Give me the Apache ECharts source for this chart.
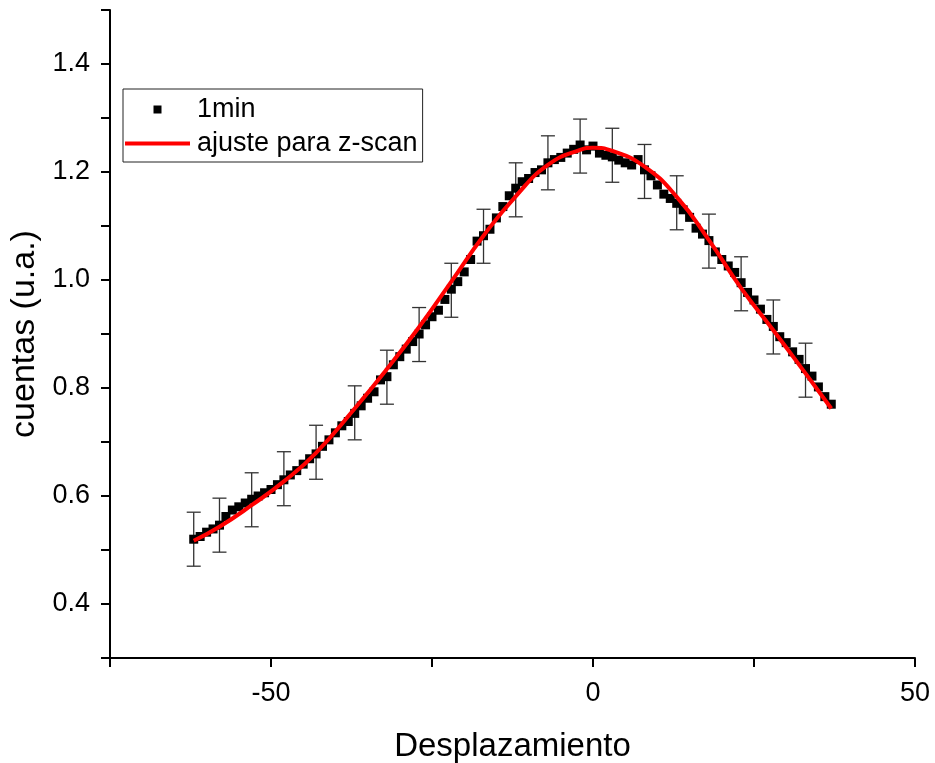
<!DOCTYPE html>
<html>
<head>
<meta charset="utf-8">
<script src="https://cdn.jsdelivr.net/npm/echarts@6/dist/echarts.min.js"></script>
<style>
  html, body { margin: 0; padding: 0; background: #fff; }
  #chart { width: 935px; height: 763px; }
</style>
</head>
<body>
<div id="chart"></div>
<script>
// measured points (1min), x in steps of 1
var pointX = [-62,-61,-60,-59,-58,-57,-56,-55,-54,-53,-52,-51,-50,-49,-48,-47,-46,-45,-44,-43,
  -42,-41,-40,-39,-38,-37,-36,-35,-34,-33,-32,-31,-30,-29,-28,-27,-26,-25,-24,-23,
  -22,-21,-20,-19,-18,-17,-16,-15,-14,-13,-12,-11,-10,-9,-8,-7,-6,-5,-4,-3,
  -2,-1,0,1,2,3,4,5,6,7,8,9,10,11,12,13,14,15,16,17,
  18,19,20,21,22,23,24,25,26,27,28,29,30,31,32,33,34,35,36,37];
var pointY = [0.520,0.525,0.533,0.539,0.546,0.562,0.574,0.580,0.587,0.594,0.600,0.606,0.612,0.621,0.630,0.639,0.647,0.659,0.669,0.678,
  0.692,0.704,0.717,0.730,0.738,0.753,0.767,0.781,0.793,0.815,0.821,0.843,0.858,0.872,0.886,0.900,0.917,0.932,0.944,0.964,
  0.983,0.997,1.015,1.038,1.072,1.082,1.094,1.115,1.136,1.156,1.170,1.182,1.188,1.199,1.204,1.217,1.223,1.227,1.235,1.242,
  1.250,1.241,1.248,1.235,1.231,1.228,1.222,1.217,1.213,1.223,1.204,1.193,1.176,1.159,1.151,1.142,1.130,1.116,1.096,1.085,
  1.073,1.052,1.038,1.026,1.014,0.995,0.977,0.963,0.946,0.927,0.914,0.895,0.884,0.867,0.853,0.836,0.822,0.802,0.784,0.770];

// error bars (every ~5th point)
var errX = [-62,-58,-53,-48,-43,-37,-32,-27,-22,-17,-12,-7,-2,3,8,13,18,23,28,33];
var errY = [0.520,0.546,0.593,0.632,0.681,0.754,0.820,0.899,0.981,1.081,1.167,1.217,1.248,1.231,1.201,1.143,1.072,0.993,0.913,0.833];
var errSize = 0.05;

// fitted curve
var fitX = [-62,-58,-53,-48,-43,-37,-32,-27,-22,-17,-12,-7,-2,0,3,8,13,18,23,28,33,37];
var fitY = [0.517,0.543,0.583,0.627,0.680,0.762,0.835,0.913,0.997,1.082,1.155,1.213,1.241,1.245,1.239,1.210,1.154,1.074,0.985,0.907,0.827,0.762];

var xTickLabels = [-50, 0, 50];
var yTickLabels = ['0.4', '0.6', '0.8', '1.0', '1.2', '1.4'];

var fontFam = '"Liberation Sans", Arial, sans-serif';

var chart = echarts.init(document.getElementById('chart'));

var scatterData = pointX.map(function (x, i) { return [x, pointY[i]]; });
var fitData = fitX.map(function (x, i) { return [x, fitY[i]]; });
var errData = errX.map(function (x, i) { return [x, errY[i] - errSize, errY[i] + errSize]; });

var option = {
  backgroundColor: '#fff',
  animation: false,
  grid: { left: 110, right: 20, top: 10, bottom: 105, containLabel: false, outerBoundsMode: 'none' },
  legend: {
    left: 123,
    top: 89,
    orient: 'vertical',
    data: [
      { name: '1min', icon: 'path://M0,0L10,0L10,10L0,10Z' },
      { name: 'ajuste para z-scan', icon: 'path://M0,0L65,0L65,4L0,4Z' }
    ],
    symbolKeepAspect: true,
    borderColor: '#222',
    borderWidth: 1,
    padding: [7, 5, 5, 2],
    itemWidth: 65,
    itemHeight: 8,
    itemGap: 7,
    textStyle: { fontSize: 27, color: '#000', fontFamily: fontFam, padding: [0, 0, 0, 2] }
  },
  xAxis: {
    type: 'value',
    min: -75,
    max: 50,
    interval: 25,
    name: 'Desplazamiento',
    nameLocation: 'middle',
    nameGap: 72,
    nameTextStyle: { fontSize: 33, color: '#000', fontFamily: fontFam },
    splitLine: { show: false },
    axisLine: { onZero: false, lineStyle: { color: '#000', width: 2 } },
    axisTick: { inside: false, length: 9, lineStyle: { color: '#000', width: 2 } },
    axisLabel: {
      margin: 22,
      fontSize: 27,
      color: '#000',
      fontFamily: fontFam,
      formatter: function (v) {
        return xTickLabels.indexOf(v) >= 0 ? String(v) : '';
      }
    }
  },
  yAxis: {
    type: 'value',
    min: 0.3,
    max: 1.5,
    interval: 0.1,
    name: 'cuentas (u.a.)',
    nameLocation: 'middle',
    nameGap: 66,
    nameTextStyle: { fontSize: 34, color: '#000', fontFamily: fontFam },
    splitLine: { show: false },
    axisLine: { onZero: false, lineStyle: { color: '#000', width: 2 } },
    axisTick: { inside: false, length: 9, lineStyle: { color: '#000', width: 2 } },
    axisLabel: {
      margin: 20,
      fontSize: 27,
      color: '#000',
      fontFamily: fontFam,
      formatter: function (v) {
        var s = v.toFixed(1);
        return yTickLabels.indexOf(s) >= 0 ? s : '';
      }
    }
  },
  series: [
    {
      type: 'custom',
      name: 'err',
      z: 1,
      silent: true,
      data: errData,
      renderItem: function (params, api) {
        var lo = api.coord([api.value(0), api.value(1)]);
        var hi = api.coord([api.value(0), api.value(2)]);
        var w = 7;
        var st = { stroke: '#333', lineWidth: 1.3 };
        return {
          type: 'group',
          children: [
            { type: 'line', shape: { x1: lo[0], y1: lo[1], x2: hi[0], y2: hi[1] }, style: st },
            { type: 'line', shape: { x1: lo[0] - w, y1: lo[1], x2: lo[0] + w, y2: lo[1] }, style: st },
            { type: 'line', shape: { x1: hi[0] - w, y1: hi[1], x2: hi[0] + w, y2: hi[1] }, style: st }
          ]
        };
      }
    },
    {
      type: 'scatter',
      name: '1min',
      z: 2,
      symbol: 'rect',
      symbolSize: 9,
      itemStyle: { color: '#000', opacity: 1 },
      data: scatterData
    },
    {
      type: 'line',
      name: 'ajuste para z-scan',
      z: 3,
      smooth: true,
      symbol: 'none',
      lineStyle: { color: '#ff0000', width: 4 },
      itemStyle: { color: '#ff0000' },
      data: fitData
    }
  ]
};

chart.setOption(option);
</script>
</body>
</html>
